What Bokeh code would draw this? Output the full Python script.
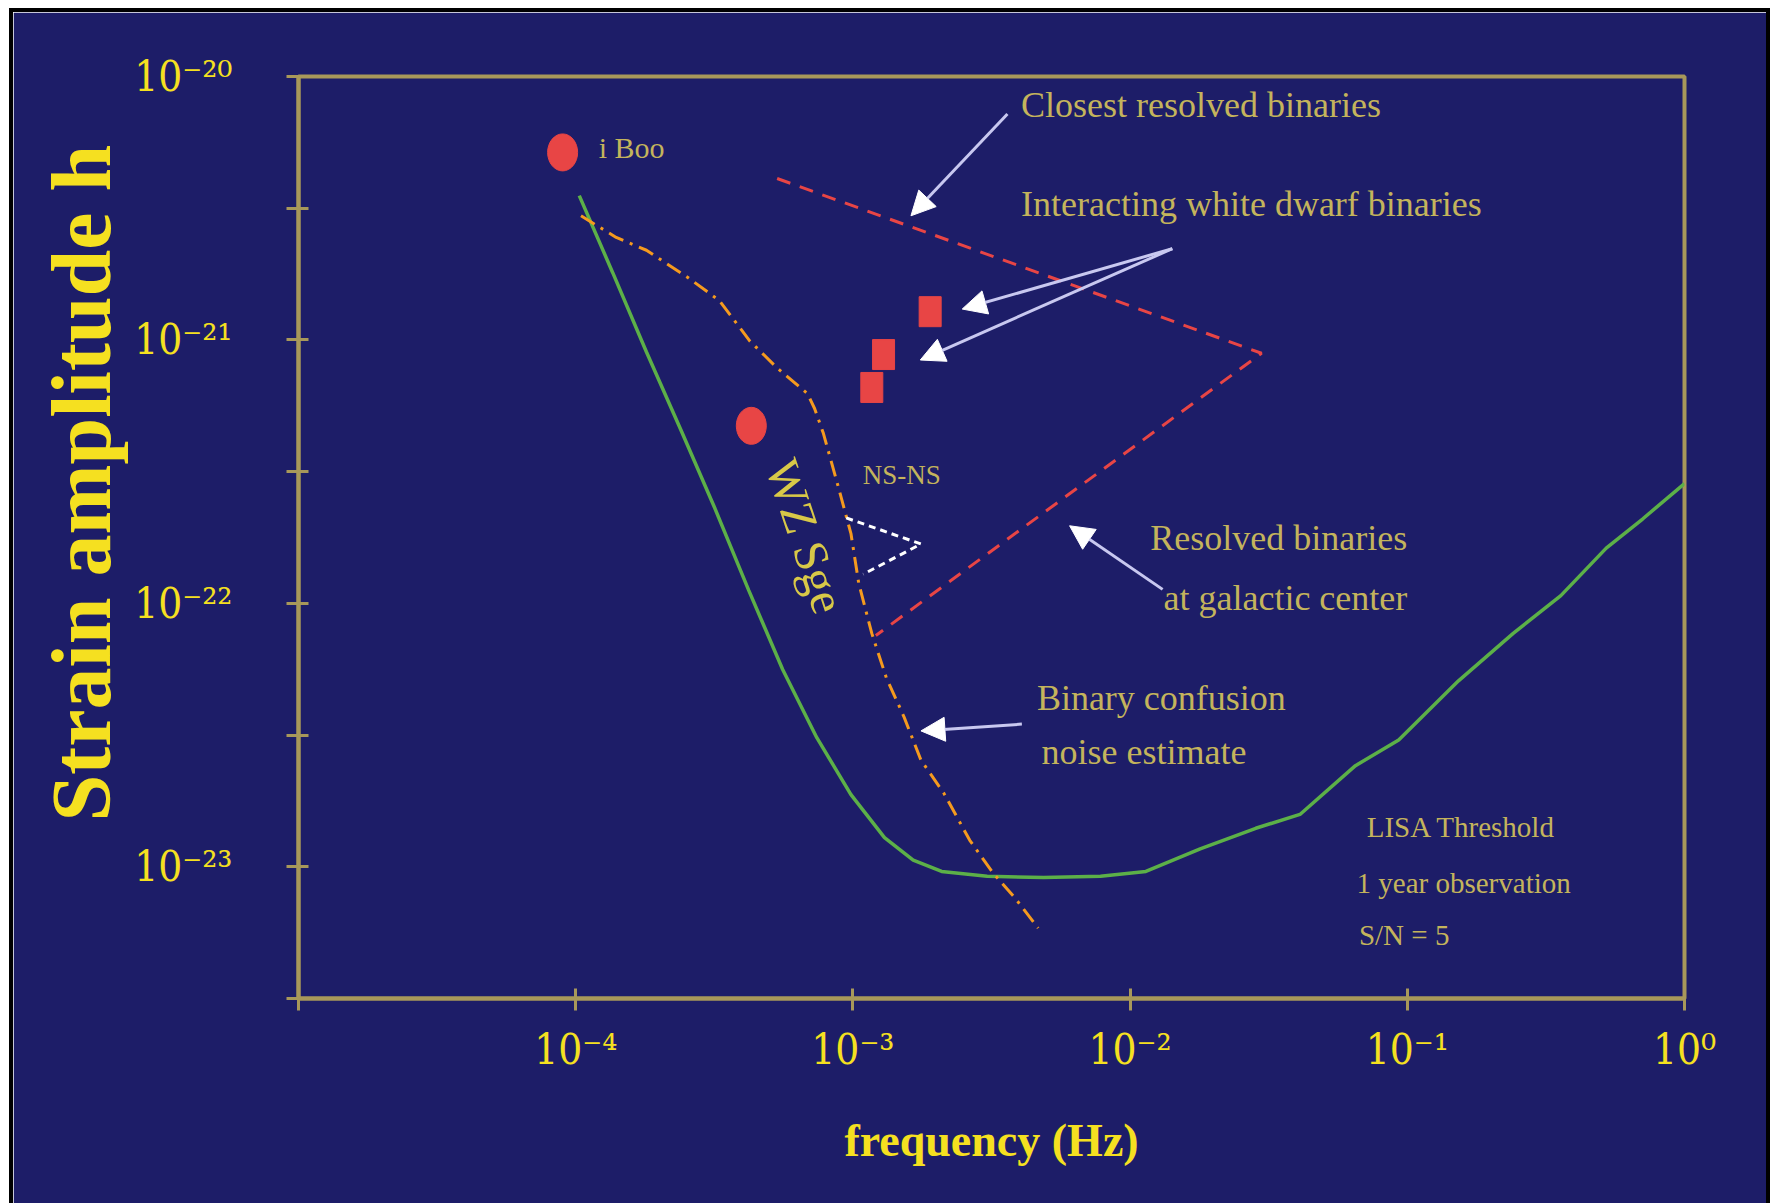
from bokeh.plotting import figure
from bokeh.models import Range1d, FixedTicker, Label, Arrow, NormalHead
from bokeh.embed import file_html
from bokeh.resources import INLINE

# ---------------- data ----------------
X_TICKS = [1e-4, 1e-3, 1e-2, 1e-1, 1.0]
X_TICK_LABELS = ["10⁻⁴", "10⁻³", "10⁻²", "10⁻¹", "10⁰"]
X_MINOR = [1e-5]
Y_TICKS = [1e-20, 1e-21, 1e-22, 1e-23]
Y_TICK_LABELS = ["10⁻²⁰", "10⁻²¹", "10⁻²²", "10⁻²³"]
Y_MINOR = [10**-20.5, 10**-21.5, 10**-22.5, 10**-23.5]

# LISA threshold curve (1 year, S/N = 5)
LISA_F = [1.03e-4, 1.36e-4, 1.80e-4, 2.39e-4, 3.18e-4, 4.21e-4, 5.58e-4, 7.41e-4,
          9.84e-4, 1.30e-3, 1.65e-3, 2.09e-3, 3.05e-3, 4.88e-3, 7.82e-3, 1.14e-2,
          1.79e-2, 2.84e-2, 4.10e-2, 6.50e-2, 9.31e-2, 0.153, 0.241, 0.358, 0.522,
          0.706, 1.0]
LISA_H = [3.53e-21, 1.80e-21, 9.0e-22, 4.58e-22, 2.29e-22, 1.12e-22, 5.61e-23, 3.09e-23,
          1.88e-23, 1.29e-23, 1.06e-23, 9.6e-24, 9.2e-24, 9.1e-24, 9.2e-24, 9.6e-24,
          1.17e-23, 1.40e-23, 1.58e-23, 2.42e-23, 3.03e-23, 5.08e-23, 7.69e-23, 1.07e-22,
          1.62e-22, 2.09e-22, 2.85e-22]

# Binary confusion noise estimate
CONF_F = [1.045e-4, 1.40e-4, 1.80e-4, 2.53e-4, 3.30e-4, 4.25e-4, 5.33e-4, 6.87e-4,
          7.28e-4, 7.83e-4, 8.79e-4, 9.84e-4, 1.05e-3, 1.17e-3, 1.32e-3, 1.53e-3,
          1.76e-3, 2.13e-3, 2.64e-3, 3.22e-3, 3.85e-3, 4.66e-3]
CONF_H = [2.96e-21, 2.45e-21, 2.19e-21, 1.73e-21, 1.41e-21, 9.9e-22, 7.83e-22, 6.24e-22,
          5.48e-22, 4.41e-22, 2.85e-22, 1.84e-22, 1.19e-22, 7.69e-23, 5.22e-23, 3.70e-23,
          2.54e-23, 1.90e-23, 1.26e-23, 9.4e-24, 7.6e-24, 5.85e-24]

# Resolved binaries region (closest / galactic centre)
RES_F = [5.33e-4, 2.98e-2, 1.21e-3]
RES_H = [4.10e-21, 8.9e-22, 7.55e-23]

# NS-NS region
NSNS_F = [9.46e-4, 1.76e-3, 1.09e-3]
NSNS_H = [2.11e-22, 1.68e-22, 1.29e-22]

# Known sources
SRC_NAMES = ["i Boo", "WZ Sge"]
SRC_F = [8.97e-5, 4.30e-4]
SRC_H = [5.15e-21, 4.72e-22]

# Interacting white dwarf binaries
WD_F = [1.90e-3, 1.29e-3, 1.17e-3]
WD_H = [1.28e-21, 8.8e-22, 6.6e-22]

# ---------------- style ----------------
BG = "#1d1d68"
FRAME = "#a8985a"
YELLOW = "#f5e020"
ANN = "#c4b45c"
RED = "#e84545"
ORANGE = "#f59a1e"
GREEN = "#5cb048"
ARROW = "#c8c8f0"
FONT = "Liberation Serif"
TICK_FONT = "DejaVu Serif Condensed"

p = figure(width=1753, height=1191, x_axis_type="log", y_axis_type="log",
           x_range=Range1d(1e-5, 1.0), y_range=Range1d(10**-23.5, 1e-20),
           output_backend="svg", toolbar_location=None,
           title="Strain amplitude h", title_location="left",
           min_border_left=285, min_border_right=82, min_border_top=64,
           min_border_bottom=205,
           background_fill_color=BG, border_fill_color=BG,
           outline_line_color=FRAME, outline_line_width=4)
p.margin = (12, 0, 0, 13)
p.styles = {"box-shadow": "0 0 0 4px #000000"}
p.xgrid.visible = False
p.ygrid.visible = False

# y-axis title (bold serif, vertical, shifted above the frame centre)
p.title.align = "left"
p.title.offset = 177
p.title.standoff = 8
p.title.text_font = FONT
p.title.text_font_size = "84px"
p.title.text_font_style = "bold"
p.title.text_color = YELLOW

p.xaxis.ticker = FixedTicker(ticks=X_TICKS, minor_ticks=X_MINOR)
p.yaxis.ticker = FixedTicker(ticks=Y_TICKS, minor_ticks=Y_MINOR)
p.xaxis.major_label_overrides = {t: s for t, s in zip(X_TICKS, X_TICK_LABELS)}
p.yaxis.major_label_overrides = {t: s for t, s in zip(Y_TICKS, Y_TICK_LABELS)}

for ax in (p.xaxis[0], p.yaxis[0]):
    ax.axis_line_color = FRAME
    ax.axis_line_width = 4
    ax.major_tick_line_color = FRAME
    ax.major_tick_line_width = 3
    ax.major_tick_in = 10
    ax.major_tick_out = 12
    ax.minor_tick_line_color = FRAME
    ax.minor_tick_line_width = 3
    ax.minor_tick_in = 10
    ax.minor_tick_out = 12
    ax.major_label_text_color = YELLOW
    ax.major_label_text_font = TICK_FONT
    ax.major_label_text_font_size = "42px"
p.yaxis.major_label_standoff = 54
p.xaxis.major_label_standoff = 14

# x-axis title
p.xaxis.axis_label = "frequency (Hz)"
p.xaxis.axis_label_text_font = FONT
p.xaxis.axis_label_text_font_size = "46px"
p.xaxis.axis_label_text_font_style = "bold"
p.xaxis.axis_label_text_color = YELLOW
p.xaxis.axis_label_standoff = 38

# ---------------- curves and markers ----------------
p.line(LISA_F, LISA_H, line_color=GREEN, line_width=3.5)
p.line(CONF_F, CONF_H, line_color=ORANGE, line_width=3, line_dash="16 7 3 7")
p.line(RES_F, RES_H, line_color=RED, line_width=3, line_dash="14 10")
p.line(NSNS_F, NSNS_H, line_color="white", line_width=3, line_dash="7 5")
p.ellipse(x=SRC_F, y=SRC_H, width=30, height=37, width_units="screen",
          height_units="screen", fill_color=RED, line_color=RED)
p.rect(x=WD_F, y=WD_H, width=22, height=30, width_units="screen",
       height_units="screen", fill_color=RED, line_color=RED)

# ---------------- arrows ----------------
def arrow(x0, y0, x1, y1):
    p.add_layout(Arrow(end=NormalHead(size=24, fill_color="white", line_color="white"),
                       x_start=x0, y_start=y0, x_end=x1, y_end=y1,
                       line_color=ARROW, line_width=3))

arrow(3.61e-3, 7.21e-21, 1.62e-3, 2.96e-21)
arrow(1.42e-2, 2.22e-21, 2.48e-3, 1.31e-21)
arrow(1.42e-2, 2.22e-21, 1.75e-3, 8.39e-22)
arrow(1.31e-2, 1.13e-22, 6.05e-3, 1.97e-22)
arrow(4.07e-3, 3.48e-23, 1.76e-3, 3.28e-23)

# ---------------- text annotations ----------------
def label(x, y, text, size, color=ANN, align="left", angle=0.0, style="normal"):
    p.add_layout(Label(x=x, y=y, text=text, text_font=FONT, text_font_size=size,
                       text_color=color, text_align=align, text_baseline="middle",
                       angle=angle, text_font_style=style))

label(4.04e-3, 7.80e-21, "Closest resolved  binaries", "36px")
label(4.04e-3, 3.27e-21, "Interacting white dwarf binaries", "36px")
label(0.1, 1.77e-22, "Resolved binaries", "36px", align="right")
label(0.1, 1.05e-22, "at galactic center", "36px", align="right")
label(4.61e-3, 4.38e-23, "Binary confusion", "36px")
label(4.79e-3, 2.72e-23, "noise estimate", "36px")
label(7.14e-2, 1.41e-23, "LISA Threshold", "29px")
label(6.56e-2, 8.69e-24, "1 year observation", "29px")
label(6.69e-2, 5.51e-24, "S/N = 5", "29px")
label(1.21e-4, 5.36e-21, SRC_NAMES[0], "30px")
label(1.50e-3, 3.08e-22, "NS-NS", "27px", align="center")
label(6.75e-4, 1.80e-22, SRC_NAMES[1], "48px", color="#d8c848", align="center",
      angle=-1.25)

open("out.html", "w").write(file_html(p, INLINE))
